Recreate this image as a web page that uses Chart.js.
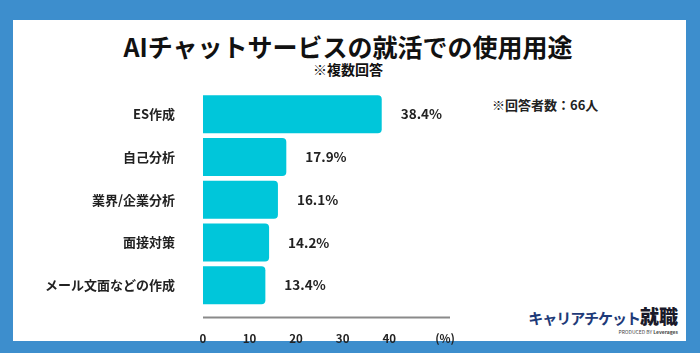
<!DOCTYPE html>
<html lang="ja">
<head>
<meta charset="utf-8">
<script src="https://cdn.jsdelivr.net/npm/chart.js@4.4.1/dist/chart.umd.min.js"></script>
<style>
  html, body { margin: 0; padding: 0; }
  body { width: 700px; height: 353px; background: #3d8ecd; position: relative; overflow: hidden;
         font-family: "Noto Sans CJK JP", "Noto Sans", sans-serif; }
  .panel { position: absolute; left: 13px; top: 20px; width: 673px; height: 321px; background: #fff; }
  .title { position: absolute; left: 0; width: 696px; top: 29px; text-align: center;
           font-size: 25px; font-weight: 700; color: #111; line-height: 34px; }
  .sub { position: absolute; left: 0; width: 696px; top: 60px; text-align: center;
         font-size: 14px; font-weight: 700; color: #111; line-height: 18px; }
  .note { position: absolute; left: 492px; top: 95px; font-size: 13px; font-weight: 700; color: #222; }
  .logo { position: absolute; right: 22px; top: 306px; text-align: right; line-height: 20px; }
  .logo .kc { font-size: 15px; font-weight: 700; color: #1e3a78; letter-spacing: -1px; }
  .logo .ss { font-size: 19px; font-weight: 900; color: #1a1a2a; }
  .logo .by { font-size: 5px; color: #444; line-height: 6px; margin-top: 1px; }
  canvas { position: absolute; left: 0; top: 0; }
</style>
</head>
<body>
<div class="panel"></div>
<div class="title">AIチャットサービスの就活での使用用途</div>
<div class="sub">※複数回答</div>
<div class="note">※回答者数：66人</div>
<div class="logo"><span class="kc">キャリアチケット</span><span class="ss">就職</span><div class="by">PRODUCED BY <b>Leverages</b></div></div>
<canvas id="chart" width="700" height="353"></canvas>
<script>
  // data
  const categories = ["ES作成", "自己分析", "業界/企業分析", "面接対策", "メール文面などの作成"];
  const usage = [38.4, 17.9, 16.1, 14.2, 13.4];
  const xTicks = [0, 10, 20, 30, 40, 52];
  const xTickLabels = ["0", "10", "20", "30", "40", "(%)"];

  const BAR_COLOR = "#00c6da";
  const FONT = "'Noto Sans CJK JP', 'Noto Sans', sans-serif";

  // value labels at bar ends
  const valueLabels = {
    id: "valueLabels",
    afterDatasetsDraw(chart) {
      const ctx = chart.ctx;
      const meta = chart.getDatasetMeta(0);
      ctx.save();
      ctx.font = "700 13.5px " + FONT;
      ctx.fillStyle = "#222";
      ctx.textBaseline = "middle";
      meta.data.forEach((bar, i) => {
        ctx.fillText(usage[i].toFixed(1) + "%", bar.x + 19, bar.y);
      });
      ctx.restore();
    }
  };

  // x axis line sits a bit below the bars
  const axisLine = {
    id: "axisLine",
    afterDraw(chart) {
      const { ctx, chartArea } = chart;
      ctx.save();
      ctx.strokeStyle = "#8a8a8a";
      ctx.lineWidth = 2;
      ctx.beginPath();
      ctx.moveTo(chartArea.left, chartArea.bottom + 11);
      ctx.lineTo(chartArea.right - 2, chartArea.bottom + 11);
      ctx.stroke();
      ctx.restore();
    }
  };

  new Chart(document.getElementById("chart"), {
    type: "bar",
    data: {
      labels: categories,
      datasets: [{
        data: usage,
        backgroundColor: BAR_COLOR,
        borderRadius: 4,
        borderSkipped: "start",
        barPercentage: 0.89,
        categoryPercentage: 1
      }]
    },
    options: {
      indexAxis: "y",
      responsive: false,
      devicePixelRatio: 1,
      animation: false,
      layout: { padding: { left: 0, top: 93, right: 248, bottom: 0 } },
      plugins: { legend: { display: false }, tooltip: { enabled: false } },
      scales: {
        x: {
          min: 0,
          max: 53.5,
          grid: { display: false },
          border: { display: false },
          afterBuildTicks(scale) {
            scale.ticks = xTicks.map(v => ({ value: v }));
          },
          afterFit(scale) { scale.height = 46.5; },
          ticks: {
            padding: 17,
            color: "#222",
            font: { family: FONT, size: 11.5, weight: "700" },
            callback: (v) => xTickLabels[xTicks.indexOf(v)]
          }
        },
        y: {
          grid: { display: false },
          border: { display: false },
          afterFit(scale) { scale.width = 203; },
          ticks: {
            padding: 20,
            color: "#222",
            font: { family: FONT, size: 13, weight: "700" }
          }
        }
      }
    },
    plugins: [valueLabels, axisLine]
  });
</script>
</body>
</html>
